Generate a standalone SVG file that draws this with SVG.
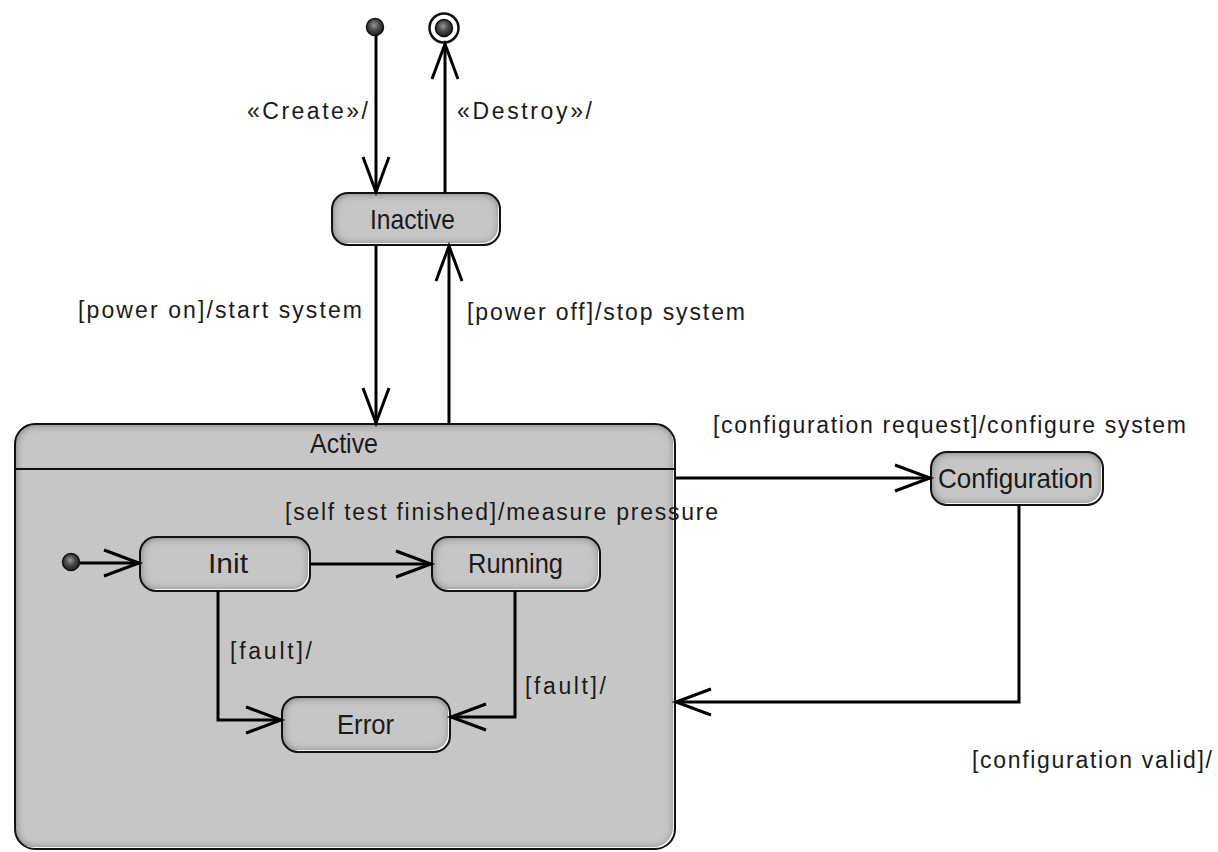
<svg xmlns="http://www.w3.org/2000/svg" width="1218" height="852" viewBox="0 0 1218 852">
  <style>
    .state { fill: #c6c6c6; filter: url(#bevel); }
    .outline { fill: none; stroke: #111; stroke-width: 2; }
    .edge { fill: none; stroke: #000; stroke-width: 3; }
    .name { font-family: "Liberation Sans", Arial, sans-serif; font-size: 28px; fill: #1a1a1a; }
    .label { font-family: "Liberation Sans", Arial, sans-serif; font-size: 23px; fill: #1a1a1a; }
  </style>
  <defs>
    <!-- soft dark rim with a light lower-right lip, used on every state -->
    <filter id="bevel" x="-5%" y="-10%" width="110%" height="120%">
      <feGaussianBlur in="SourceAlpha" stdDeviation="5" result="blur"/>
      <feComposite in="SourceAlpha" in2="blur" operator="out" result="rim"/>
      <feFlood flood-color="#3a3a3a"/>
      <feComposite in2="rim" operator="in" result="shade"/>
      <feOffset in="SourceAlpha" dx="-2" dy="-2" result="shift"/>
      <feComposite in="SourceAlpha" in2="shift" operator="out" result="lip"/>
      <feFlood flood-color="#ffffff" flood-opacity="0.85"/>
      <feComposite in2="lip" operator="in" result="light"/>
      <feMerge>
        <feMergeNode in="SourceGraphic"/>
        <feMergeNode in="shade"/>
        <feMergeNode in="light"/>
      </feMerge>
    </filter>
    <radialGradient id="ball" cx="0.45" cy="0.4" r="0.6">
      <stop offset="0" stop-color="#9a9a9a"/>
      <stop offset="0.5" stop-color="#4a4a4a"/>
      <stop offset="1" stop-color="#1e1e1e"/>
    </radialGradient>
    <marker id="open" markerUnits="userSpaceOnUse" viewBox="-40 -20 44 40" markerWidth="44" markerHeight="40" refX="0" refY="0" orient="auto" overflow="visible">
      <path d="M -35 -13 L 0 0 L -35 13" fill="none" stroke="#000" stroke-width="3"/>
    </marker>
  </defs>

  <rect width="1218" height="852" fill="#ffffff"/>

  <!-- composite state Active -->
  <g id="active">
    <rect class="state" x="15" y="424" width="660" height="425" rx="20"/>
    <rect class="outline" x="15" y="424" width="660" height="425" rx="20"/>
    <line x1="15" y1="469" x2="675" y2="469" stroke="#111" stroke-width="2"/>
    <text class="name" x="310" y="453" textLength="68" lengthAdjust="spacingAndGlyphs">Active</text>
  </g>

  <!-- pseudo-states -->
  <g id="initial">
    <circle cx="375" cy="27" r="8.5" fill="url(#ball)" stroke="#111" stroke-width="1.5"/>
  </g>
  <g id="final">
    <circle cx="444" cy="28" r="14.5" fill="#fff" stroke="#111" stroke-width="2.5"/>
    <circle cx="444" cy="28" r="8.5" fill="url(#ball)" stroke="#111" stroke-width="1.5"/>
  </g>
  <g id="inner-initial">
    <circle cx="71" cy="562" r="8.5" fill="url(#ball)" stroke="#111" stroke-width="1.5"/>
  </g>

  <!-- simple states -->
  <g id="inactive">
    <rect class="state" x="332" y="193" width="168" height="52" rx="16"/>
    <rect class="outline" x="332" y="193" width="168" height="52" rx="16"/>
    <text class="name" x="370" y="229" textLength="85" lengthAdjust="spacingAndGlyphs">Inactive</text>
  </g>
  <g id="configuration">
    <rect class="state" x="931" y="452" width="172" height="53" rx="16"/>
    <rect class="outline" x="931" y="452" width="172" height="53" rx="16"/>
    <text class="name" x="938" y="488" textLength="155" lengthAdjust="spacingAndGlyphs">Configuration</text>
  </g>
  <g id="init">
    <rect class="state" x="140" y="537" width="170" height="54" rx="16"/>
    <rect class="outline" x="140" y="537" width="170" height="54" rx="16"/>
    <text class="name" x="208" y="573" textLength="40" lengthAdjust="spacingAndGlyphs">Init</text>
  </g>
  <g id="running">
    <rect class="state" x="432" y="537" width="168" height="54" rx="16"/>
    <rect class="outline" x="432" y="537" width="168" height="54" rx="16"/>
    <text class="name" x="468" y="573" textLength="95" lengthAdjust="spacingAndGlyphs">Running</text>
  </g>
  <g id="error">
    <rect class="state" x="282" y="697" width="168" height="55" rx="16"/>
    <rect class="outline" x="282" y="697" width="168" height="55" rx="16"/>
    <text class="name" x="337" y="734" textLength="57" lengthAdjust="spacingAndGlyphs">Error</text>
  </g>

  <!-- transitions -->
  <g id="connectors">
    <path class="edge" d="M 376 36 L 376 192" marker-end="url(#open)"/>
    <path class="edge" d="M 445 193 L 445 44" marker-end="url(#open)"/>
    <path class="edge" d="M 376 245 L 376 423" marker-end="url(#open)"/>
    <path class="edge" d="M 449 424 L 449 246" marker-end="url(#open)"/>
    <path class="edge" d="M 675 478 L 930 478" marker-end="url(#open)"/>
    <path class="edge" d="M 1019 505 L 1019 702 L 676 702" marker-end="url(#open)"/>
    <path class="edge" d="M 80 563 L 139 563" marker-end="url(#open)"/>
    <path class="edge" d="M 310 564 L 431 564" marker-end="url(#open)"/>
    <path class="edge" d="M 218 591 L 218 720 L 281 720" marker-end="url(#open)"/>
    <path class="edge" d="M 515 591 L 515 717 L 451 717" marker-end="url(#open)"/>
  </g>

  <!-- transition labels -->
  <g id="labels">
    <text class="label" x="247" y="119" textLength="121" lengthAdjust="spacing">«Create»/</text>
    <text class="label" x="457" y="119" textLength="135" lengthAdjust="spacing">«Destroy»/</text>
    <text class="label" x="78" y="318" textLength="284" lengthAdjust="spacing">[power on]/start system</text>
    <text class="label" x="467" y="320" textLength="278" lengthAdjust="spacing">[power off]/stop system</text>
    <text class="label" x="713" y="433" textLength="473" lengthAdjust="spacing">[configuration request]/configure system</text>
    <text class="label" x="285" y="520" textLength="433" lengthAdjust="spacing">[self test finished]/measure pressure</text>
    <text class="label" x="230" y="659" textLength="82" lengthAdjust="spacing">[fault]/</text>
    <text class="label" x="525" y="694" textLength="81" lengthAdjust="spacing">[fault]/</text>
    <text class="label" x="972" y="768" textLength="240" lengthAdjust="spacing">[configuration valid]/</text>
  </g>
</svg>
